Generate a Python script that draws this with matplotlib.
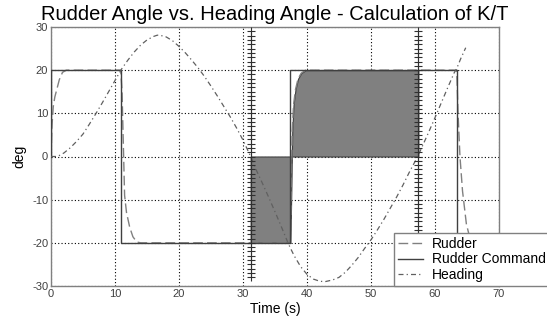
import numpy as np
import matplotlib
matplotlib.use("Agg")
import matplotlib.pyplot as plt

plt.rcParams['font.family'] = ['Liberation Sans', 'DejaVu Sans']
plt.rcParams['axes.unicode_minus'] = False

# ---- data ----
cmd_t = [0, 0, 10.9, 10.9, 37.4, 37.4, 63.4, 63.4, 65.3]
cmd_v = [0, 20, 20, -20, -20, 20, 20, -20, -20]

rud_t = [0, 0.15, 0.35, 0.6, 0.9, 1.3, 1.8, 2.4, 10.9, 11.1, 11.3, 11.5, 11.8,
         12.3, 12.8, 13.4, 14.0, 37.4, 37.55, 37.7, 37.9, 38.2, 38.6, 39.1,
         39.8, 63.4, 63.6, 63.9, 64.3, 64.9, 65.3]
rud_v = [0, 7, 11.5, 13.8, 15.5, 17.8, 19.5, 20, 20, 15, 3, -9, -13,
         -16.4, -18.6, -19.8, -20, -20, -8, 6, 12, 15.5, 18, 19.3,
         20, 20, 10, 0, -8, -15.6, -18]

head_t = [0, 1, 2, 3, 4, 5, 6, 7, 8, 9, 10, 11, 12, 13, 14, 15, 16, 16.6, 17,
          18, 19, 20, 21, 22, 23, 24, 25, 26, 27, 28, 29, 30, 31.2, 32, 33, 34,
          35, 36, 37, 37.4, 38, 39, 40, 41, 42, 42.8, 44, 45, 46, 47, 48, 49,
          50, 51, 52, 53, 54, 55, 56, 57.3, 58, 59, 60, 61, 62, 63, 63.4, 64,
          64.8]
head_v = [0, 0, 0.8, 2.0, 3.5, 5.2, 7.5, 9.9, 12.4, 15, 17.6, 20.2, 22.3, 24.2,
          25.8, 27, 27.8, 28.1, 28.1, 27.7, 26.8, 25.5, 24, 22.3, 20.5, 18.5,
          16.3, 14, 11.6, 9.2, 6.6, 3.8, 0, -2.9, -6.1, -9.4, -12.8, -16.3,
          -19.9, -21.2, -23, -25.5, -27.3, -28.4, -28.9, -29, -28.6, -28,
          -26.8, -25.2, -23.4, -21.3, -19.3, -17, -14.6, -12, -9.4, -6.6,
          -3.6, 0, 2.3, 5.6, 9.0, 12.5, 16, 19.4, 20.4, 22.6, 25.2]

cross_times = [31.2, 57.4]
hash_lo, hash_hi = -28, 29

xticks = [0, 10, 20, 30, 40, 50, 60, 70]
yticks = [-30, -20, -10, 0, 10, 20, 30]

# ---- figure ----
fig = plt.figure(figsize=(5.47, 3.22), dpi=100)
ax = fig.add_axes([51/547, 1-286/322, (499-51)/547, (286-27)/322])

# fill of rudder between the heading zero crossings
rt = np.array(rud_t, dtype=float)
rv = np.array(rud_v, dtype=float)
a, b = cross_times
mask = (rt > a) & (rt < b)
ft = np.concatenate([[a], rt[mask], [b]])
fv = np.concatenate([[np.interp(a, rt, rv)], rv[mask], [np.interp(b, rt, rv)]])
ax.fill_between(ft, 0, fv, facecolor='#808080', edgecolor='#404040', linewidth=0.8, zorder=2)

ax.plot(rud_t, rud_v, color='#808080', lw=1.0, dashes=(7, 3), label='Rudder', zorder=3)
ax.plot(cmd_t, cmd_v, color='#404040', lw=1.0, label='Rudder Command', zorder=3)
ax.plot(head_t, head_v, color='#606060', lw=0.9, dashes=(4, 2.5, 1, 2.5), label='Heading', zorder=3)

hy = np.arange(hash_lo, hash_hi + 1)
for ct in cross_times:
    ax.plot(np.full(len(hy), ct), hy, linestyle='none', marker='+', markersize=6,
            markeredgewidth=0.8, color='#303030', zorder=4)

ax.set_xlim(0, 70)
ax.set_ylim(-30, 30)
ax.set_xticks(xticks)
ax.set_yticks(yticks)
ax.grid(True, color='black', linestyle=(0, (1, 2)), linewidth=0.8)
ax.tick_params(length=0, labelsize=8, labelcolor='#404040', pad=2)
for s in ax.spines.values():
    s.set_color('#808080')
    s.set_linewidth(1.0)

ax.set_title('Rudder Angle vs. Heading Angle - Calculation of K/T', fontsize=14.5, pad=5)
ax.set_xlabel('Time (s)', fontsize=10, labelpad=2)
ax.set_ylabel('deg', fontsize=10, labelpad=4)

leg = ax.legend(loc='lower left', bbox_to_anchor=(394/547, 1-286/322),
                bbox_transform=fig.transFigure, borderaxespad=0, fontsize=10,
                handlelength=1.8, handletextpad=0.6, labelspacing=0.1,
                borderpad=0.3, fancybox=False, framealpha=1, edgecolor='#808080')
leg.get_frame().set_linewidth(1.0)

fig.savefig('out.png', dpi=100)
